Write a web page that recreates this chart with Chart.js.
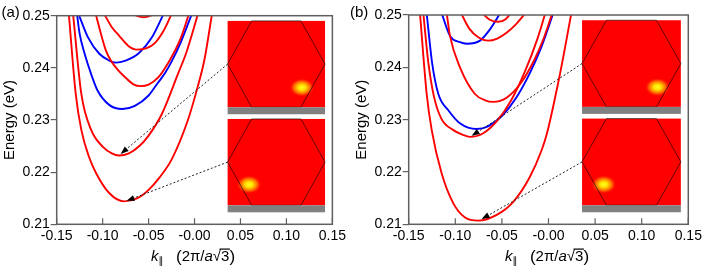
<!DOCTYPE html>
<html>
<head>
<meta charset="utf-8">
<script src="https://cdn.jsdelivr.net/npm/chart.js@4.4.1/dist/chart.umd.min.js"></script>
<style>
  html, body { margin: 0; padding: 0; background: #fff; }
  #wrap { position: relative; width: 706px; height: 267px; overflow: hidden; }
  canvas { position: absolute; top: 0; }
  #chartA { left: 0; }
  #chartB { left: 349px; }
</style>
</head>
<body>
<div id="wrap">
  <canvas id="chartA" width="349" height="267"></canvas>
  <canvas id="chartB" width="357" height="267"></canvas>
</div>
<script>
// ticks
const xTicks = [-0.15, -0.10, -0.05, 0.00, 0.05, 0.10, 0.15];
const xTickLabels = ['-0.15', '-0.10', '-0.05', '-0.00', '0.05', '0.10', '0.15'];
const yTicks = [0.21, 0.22, 0.23, 0.24, 0.25];
const yTickLabels = ['0.21', '0.22', '0.23', '0.24', '0.25'];

// panel (a) bands, [k, E]
const aRed1 = [[-0.1368, 0.2503], [-0.1293, 0.2350], [-0.1232, 0.2281], [-0.1150, 0.2230], [-0.1071, 0.2198], [-0.0929, 0.2160], [-0.0768, 0.2144], [-0.0620, 0.2150], [-0.0500, 0.2166], [-0.0380, 0.2190], [-0.0250, 0.2224], [-0.0072, 0.2300], [0.0035, 0.2364], [0.0107, 0.2415], [0.0190, 0.2503]];
const aRed2 = [[-0.1322, 0.2503], [-0.1232, 0.2350], [-0.1125, 0.2281], [-0.1000, 0.2249], [-0.0900, 0.2236], [-0.0822, 0.2232], [-0.0714, 0.2236], [-0.0600, 0.2250], [-0.0500, 0.2270], [-0.0357, 0.2311], [-0.0179, 0.2389], [-0.0090, 0.2429], [0.0035, 0.2502]];
const aBlue1 = [[-0.1279, 0.2503], [-0.1250, 0.2465], [-0.1196, 0.2427], [-0.1125, 0.2388], [-0.1054, 0.2356], [-0.0929, 0.2329], [-0.0786, 0.2321], [-0.0650, 0.2327], [-0.0500, 0.2347], [-0.0400, 0.2371], [-0.0321, 0.2390], [-0.0250, 0.2412], [-0.0150, 0.2449], [-0.0030, 0.2503]];
const aRed3 = [[-0.1075, 0.2503], [-0.1018, 0.2465], [-0.0964, 0.2433], [-0.0911, 0.2414], [-0.0830, 0.2395], [-0.0750, 0.2381], [-0.0660, 0.2368], [-0.0586, 0.2365], [-0.0500, 0.2368], [-0.0393, 0.2382], [-0.0268, 0.2415], [-0.0150, 0.2457], [-0.0062, 0.2503]];
const aBlue2 = [[-0.1262, 0.2503], [-0.1161, 0.2459], [-0.1036, 0.2427], [-0.0929, 0.2414], [-0.0857, 0.2410], [-0.0750, 0.2414], [-0.0607, 0.2428], [-0.0465, 0.2458], [-0.0340, 0.2502]];
const aRed4 = [[-0.0982, 0.2503], [-0.0900, 0.2478], [-0.0822, 0.2462], [-0.0720, 0.2442], [-0.0626, 0.2435], [-0.0520, 0.2438], [-0.0429, 0.2448], [-0.0340, 0.2470], [-0.0250, 0.2503]];
const aRed5 = [[-0.0690, 0.2506], [-0.0620, 0.2499], [-0.0554, 0.2497], [-0.0490, 0.2499], [-0.0420, 0.2506]];
// states shown in the insets (a)
const aMarked = [[-0.0804, 0.2235], [-0.0739, 0.2145]];

// panel (b) bands
const bRed1 = [[-0.1379, 0.2503], [-0.1307, 0.2349], [-0.1253, 0.2280], [-0.1146, 0.2197], [-0.1021, 0.2140], [-0.0896, 0.2113], [-0.0753, 0.2107], [-0.0556, 0.2118], [-0.0378, 0.2143], [-0.0199, 0.2191], [-0.0073, 0.2242], [-0.0019, 0.2272], [0.0116, 0.2381], [0.0245, 0.2503]];
const bRed2 = [[-0.1343, 0.2503], [-0.1290, 0.2410], [-0.1230, 0.2345], [-0.1150, 0.2302], [-0.1021, 0.2280], [-0.0920, 0.2271], [-0.0842, 0.2267], [-0.0700, 0.2274], [-0.0550, 0.2298], [-0.0400, 0.2337], [-0.0250, 0.2393], [-0.0120, 0.2454], [-0.0035, 0.2503]];
const bBlue1 = [[-0.1307, 0.2503], [-0.1250, 0.2410], [-0.1182, 0.2349], [-0.1075, 0.2318], [-0.0950, 0.2293], [-0.0770, 0.2282], [-0.0650, 0.2287], [-0.0500, 0.2307], [-0.0350, 0.2341], [-0.0200, 0.2389], [-0.0080, 0.2437], [0.0050, 0.2503]];
const bRed3 = [[-0.1092, 0.2503], [-0.1057, 0.2460], [-0.0950, 0.2400], [-0.0789, 0.2349], [-0.0680, 0.2337], [-0.0592, 0.2334], [-0.0450, 0.2342], [-0.0300, 0.2369], [-0.0150, 0.2415], [-0.0050, 0.2456], [0.0040, 0.2503]];
const bBlue2 = [[-0.1146, 0.2503], [-0.1057, 0.2460], [-0.0950, 0.2448], [-0.0878, 0.2445], [-0.0735, 0.2451], [-0.0630, 0.2472], [-0.0520, 0.2503]];
const bRed4 = [[-0.0937, 0.2503], [-0.0850, 0.2474], [-0.0750, 0.2457], [-0.0650, 0.2451], [-0.0550, 0.2455], [-0.0450, 0.2466], [-0.0350, 0.2482], [-0.0250, 0.2503]];
const bRed5 = [[-0.0720, 0.2505], [-0.0630, 0.2491], [-0.0540, 0.2487], [-0.0460, 0.2492], [-0.0400, 0.2505]];
const bMarked = [[-0.0824, 0.2269], [-0.0717, 0.2110]];

// look
const RED = '#ff0000', BLUE = '#0000ff';
const FONT = '"Liberation Sans", Arial, "DejaVu Sans", sans-serif';
// inset boxes (k range, E range of each box), band height in px
const insetLayout = { k0: 0.036, k1: 0.142, rows: [[0.2490, 0.2311], [0.2302, 0.2123]], band: 7 };
const spotPos = [[0.763, 0.772], [0.22, 0.76]];

function drawInset(ctx, x0, y0, w, h, band, spot) {
  ctx.save();
  ctx.fillStyle = '#ff0000';
  ctx.fillRect(x0, y0, w, h);
  // bright spot
  ctx.save();
  ctx.translate(x0 + spot[0] * w, y0 + spot[1] * h);
  ctx.scale(1.35, 1);
  const g = ctx.createRadialGradient(0, 0, 0, 0, 0, 9.5);
  g.addColorStop(0, '#ffff20');
  g.addColorStop(0.3, '#ffe000');
  g.addColorStop(0.65, 'rgba(255,140,0,0.75)');
  g.addColorStop(1, 'rgba(255,0,0,0)');
  ctx.fillStyle = g;
  ctx.beginPath();
  ctx.arc(0, 0, 9.5, 0, Math.PI * 2);
  ctx.fill();
  ctx.restore();
  // hexagon
  ctx.beginPath();
  ctx.moveTo(x0 + 0.247 * w, y0);
  ctx.lineTo(x0 + 0.753 * w, y0);
  ctx.lineTo(x0 + w, y0 + h / 2);
  ctx.lineTo(x0 + 0.753 * w, y0 + h);
  ctx.lineTo(x0 + 0.247 * w, y0 + h);
  ctx.lineTo(x0, y0 + h / 2);
  ctx.closePath();
  ctx.strokeStyle = '#000';
  ctx.lineWidth = 0.6;
  ctx.stroke();
  ctx.fillStyle = '#808080';
  ctx.fillRect(x0, y0 + h, w, band);
  ctx.restore();
}

function drawArrow(ctx, x1, y1, x2, y2) {
  ctx.save();
  ctx.strokeStyle = '#222';
  ctx.lineWidth = 1;
  ctx.setLineDash([2, 2]);
  ctx.beginPath();
  ctx.moveTo(x1, y1);
  ctx.lineTo(x2, y2);
  ctx.stroke();
  ctx.setLineDash([]);
  const a = Math.atan2(y2 - y1, x2 - x1);
  const c = Math.cos(a), s = Math.sin(a);
  ctx.fillStyle = '#000';
  ctx.beginPath();
  ctx.moveTo(x2, y2);
  ctx.lineTo(x2 - 8 * c + 3 * s, y2 - 8 * s - 3 * c);
  ctx.lineTo(x2 - 8 * c - 3 * s, y2 - 8 * s + 3 * c);
  ctx.closePath();
  ctx.fill();
  ctx.restore();
}

function drawKTitle(ctx, cx, cy) {
  const n = '15px ' + FONT, it = 'italic 15px ' + FONT, big = '17px ' + FONT;
  const parts = [
    { t: 'k', f: it, dy: 0 },
    { t: '\u2225', f: '10px "DejaVu Sans", sans-serif', dy: 4 },
    { t: '   ', f: n, dy: 0 },
    { t: '(', f: big, dy: 0 },
    { t: '2\u03c0/', f: n, dy: 0 },
    { t: 'a', f: it, dy: 0 },
    { t: '\u221a', f: n, dy: 0 },
    { t: '3', f: n, dy: 0, bar: true },
    { t: ')', f: big, dy: 0 }
  ];
  ctx.save();
  ctx.fillStyle = '#000';
  ctx.textBaseline = 'middle';
  ctx.textAlign = 'left';
  let total = 0;
  parts.forEach(p => { ctx.font = p.f; p.w = ctx.measureText(p.t).width; total += p.w; });
  let x = cx - total / 2;
  parts.forEach(p => {
    ctx.font = p.f;
    ctx.fillText(p.t, x, cy + p.dy);
    if (p.bar) ctx.fillRect(x - 1.5, cy - 8.5, p.w + 2, 1.2);
    x += p.w;
  });
  ctx.restore();
}

const deco = {
  id: 'deco',
  afterDatasetsDraw(chart, args, o) {
    const { ctx, scales: { x, y } } = chart;
    const L = x.getPixelForValue(insetLayout.k0), R = x.getPixelForValue(insetLayout.k1);
    insetLayout.rows.forEach((row, i) => {
      const T = y.getPixelForValue(row[0]), B = y.getPixelForValue(row[1]);
      const h = B - T - insetLayout.band;
      drawInset(ctx, L, T, R - L, h, insetLayout.band, spotPos[i]);
      const m = o.marked[i];
      drawArrow(ctx, L, T + h / 2, x.getPixelForValue(m[0]), y.getPixelForValue(m[1]));
    });
  },
  afterDraw(chart, args, o) {
    const { ctx, chartArea: ca, scales: { x } } = chart;
    ctx.save();
    ctx.strokeStyle = '#606060';
    ctx.lineWidth = 1.5;
    ctx.strokeRect(ca.left, ca.top, ca.right - ca.left, ca.bottom - ca.top);
    // x ticks point inward
    ctx.lineWidth = 1.2;
    ctx.beginPath();
    xTicks.forEach(v => {
      const px = x.getPixelForValue(v);
      ctx.moveTo(px, ca.bottom);
      ctx.lineTo(px, ca.bottom - 6);
    });
    ctx.stroke();
    ctx.fillStyle = '#000';
    ctx.font = '15px ' + FONT;
    ctx.textBaseline = 'alphabetic';
    ctx.fillText(o.label, o.labelX, 17);
    ctx.restore();
    drawKTitle(ctx, (ca.left + ca.right) / 2 - 1.5, 257);
  }
};

function makeChart(id, curves, marked, label, geo) {
  const datasets = curves.map(c => ({
    data: c[0].map(p => ({ x: p[0], y: p[1] })),
    borderColor: c[1],
    borderWidth: 1.9,
    pointRadius: 0,
    fill: false,
    cubicInterpolationMode: 'monotone',
    clip: 0
  }));
  return new Chart(document.getElementById(id), {
    type: 'line',
    data: { datasets },
    options: {
      responsive: false,
      animation: false,
      events: [],
      layout: { padding: { left: 0, right: geo.right, top: geo.top, bottom: 0 } },
      plugins: {
        legend: { display: false },
        tooltip: { enabled: false },
        deco: { marked: marked, label: label, labelX: geo.labelX }
      },
      scales: {
        x: {
          type: 'linear', min: -0.15, max: 0.15,
          afterBuildTicks: s => { s.ticks = xTicks.map(v => ({ value: v })); },
          afterFit: s => { s.height = 42.7; },
          ticks: {
            callback: (v, i) => xTickLabels[i],
            font: { family: FONT, size: 14 }, color: '#000',
            padding: 3, maxRotation: 0, autoSkip: false
          },
          grid: { drawOnChartArea: false, drawTicks: false },
          border: { display: false }
        },
        y: {
          type: 'linear', min: 0.21, max: 0.25,
          afterBuildTicks: s => { s.ticks = yTicks.map(v => ({ value: v })); },
          afterFit: s => { s.width = geo.yw; },
          ticks: {
            callback: (v, i) => yTickLabels[i],
            font: { family: FONT, size: 14 }, color: '#000',
            padding: 1, autoSkip: false
          },
          grid: { drawOnChartArea: false, drawTicks: true, tickLength: 6, color: '#606060', lineWidth: 1.2 },
          border: { display: false },
          title: {
            display: true, text: 'Energy (eV)', color: '#000',
            font: { family: FONT, size: 15 }, padding: { top: geo.titlePad, bottom: 0 }
          }
        }
      }
    },
    plugins: [deco]
  });
}

makeChart('chartA',
  [[aRed1, RED], [aRed2, RED], [aRed3, RED], [aRed4, RED], [aRed5, RED], [aBlue1, BLUE], [aBlue2, BLUE]],
  aMarked, '(a)', { yw: 56.7, right: 12, top: 15.7, titlePad: 0.5, labelX: 1.5 });
makeChart('chartB',
  [[bRed1, RED], [bRed2, RED], [bRed3, RED], [bRed4, RED], [bRed5, RED], [bBlue1, BLUE], [bBlue2, BLUE]],
  bMarked, '(b)', { yw: 59.7, right: 17.7, top: 15, titlePad: 4, labelX: 1 });
</script>
</body>
</html>
